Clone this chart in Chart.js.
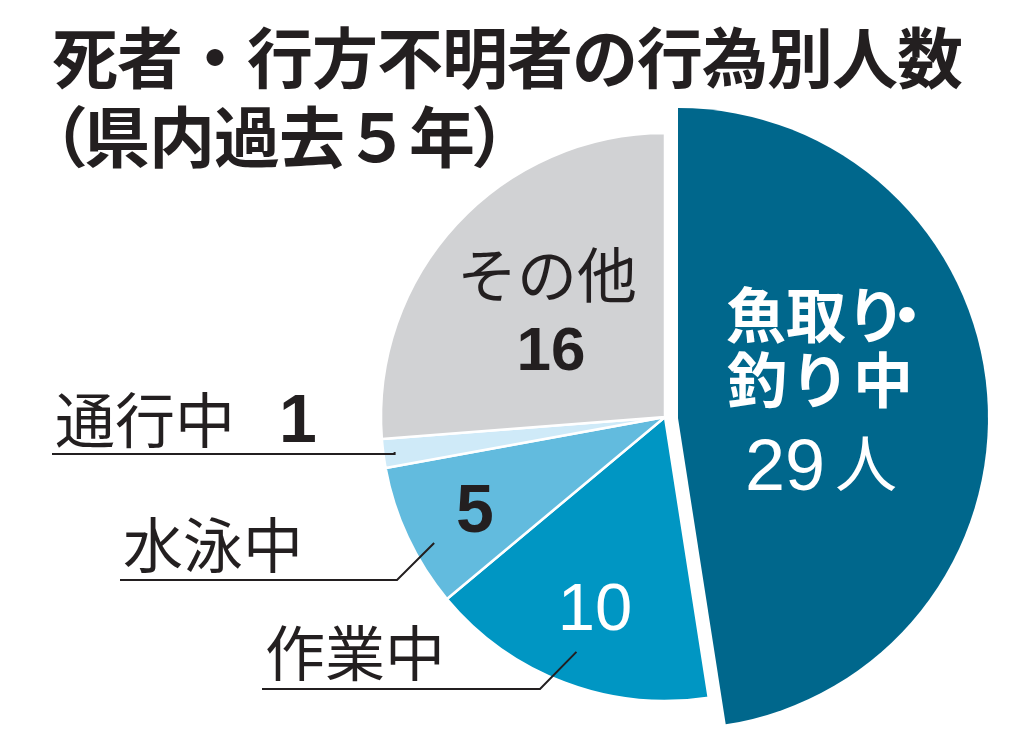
<!DOCTYPE html>
<html lang="ja">
<head>
<meta charset="utf-8">
<script src="https://cdn.jsdelivr.net/npm/chart.js@4.4.1/dist/chart.umd.min.js"></script>
<style>
  html, body { margin: 0; padding: 0; background: #fff; }
  #wrap { position: relative; width: 1024px; height: 752px; overflow: hidden; }
  .layer { position: absolute; left: 0; top: 0; width: 1024px; height: 752px; }
  #title {
    position: absolute; left: 52px; top: 15px;
    font-family: "Noto Sans CJK JP", sans-serif; font-weight: 700;
    font-size: 66px; line-height: 79px; letter-spacing: -1px;
    color: #231f20; white-space: nowrap;
  }
  #title .p { font-feature-settings: "palt"; }
</style>
</head>
<body>
<div id="wrap">
  <div class="layer"><canvas id="pieRest"></canvas></div>
  <div class="layer"><canvas id="pieMain"></canvas></div>
  <div id="title">死者・行方不明者の行為別人数<br><span class="p">（</span>県内過去５年<span class="p">）</span></div>
</div>
<script>
// data
const categories = ['魚取り・釣り中', '作業中', '水泳中', '通行中', 'その他'];
const counts = [29, 10, 5, 1, 16];
const unit = '人';

const sliceColors = ['#00678c', '#0096c3', '#62bbde', '#cfeaf8', '#d1d2d4'];
const clear = 'rgba(0,0,0,0)';
const ink = '#231f20';
const jp = '"Noto Sans CJK JP", sans-serif';
const num = '"Liberation Sans", Arial, sans-serif';

// point inside an arc: t = fraction along the slice, rf = fraction of radius
const arcPoint = (arc, t, rf) => {
    const p = arc.getProps(['x', 'y', 'startAngle', 'endAngle', 'outerRadius'], true);
    const a = p.startAngle + (p.endAngle - p.startAngle) * t;
    return { x: p.x + Math.cos(a) * p.outerRadius * rf, y: p.y + Math.sin(a) * p.outerRadius * rf };
};

const sliceLabels = {
    id: 'sliceLabels',
    afterDatasetsDraw(chart, args, opts) {
        const ctx = chart.ctx;
        const arcs = chart.getDatasetMeta(0).data;
        ctx.save();
        ctx.textBaseline = 'alphabetic';

        (opts.inner || []).forEach(l => {
            const c = arcs[l.index].getProps(['x', 'y'], true);
            ctx.font = l.font;
            ctx.fillStyle = l.color;
            ctx.textAlign = l.align || 'center';
            ctx.letterSpacing = l.spacing || '0px';
            ctx.fillText(l.text, c.x + l.dx, c.y + l.dy);
        });

        (opts.leaders || []).forEach(l => {
            const p = arcPoint(arcs[l.index], l.t, l.rf);
            ctx.strokeStyle = ink;
            ctx.lineWidth = 2;
            ctx.beginPath();
            ctx.moveTo(l.x0, l.y);
            ctx.lineTo(l.elbow != null ? l.elbow : p.x, l.y);
            ctx.lineTo(p.x, p.y);
            ctx.stroke();

            ctx.fillStyle = ink;
            ctx.textAlign = 'left';
            ctx.letterSpacing = '0px';
            ctx.font = '400 60px ' + jp;
            ctx.fillText(categories[l.index], l.x0 + 3, l.y + l.base);
            if (l.value) {
                ctx.font = '700 68px ' + num;
                ctx.fillText(String(counts[l.index]), l.value, l.y + l.base - 1);
            }
        });
        ctx.restore();
    }
};

const baseOptions = (padLeft, padTop, radius, labels) => ({
    responsive: true,
    maintainAspectRatio: false,
    animation: false,
    radius: radius,
    layout: { padding: { left: padLeft, top: padTop, right: 0, bottom: 0 } },
    events: [],
    plugins: {
        legend: { display: false },
        tooltip: { enabled: false },
        sliceLabels: labels
    }
});

// all slices except the exploded one
new Chart(document.getElementById('pieRest'), {
    type: 'pie',
    data: {
        labels: categories,
        datasets: [{
            data: counts,
            backgroundColor: sliceColors.map((c, i) => i === 0 ? clear : c),
            borderColor: '#fff',
            borderWidth: counts.map((v, i) => i === 0 ? 0 : 2.5)
        }]
    },
    options: baseOptions(306, 82, 284, {
        inner: [
            { index: 4, text: categories[4], font: '400 60px ' + jp, color: ink, dx: -118, dy: -119 },
            { index: 4, text: String(counts[4]), font: '700 62px ' + num, color: ink, dx: -114, dy: -47 },
            { index: 2, text: String(counts[2]), font: '700 68px ' + num, color: ink, dx: -190, dy: 115 },
            { index: 1, text: String(counts[1]), font: '400 67px ' + num, color: '#fff', dx: -70, dy: 213 }
        ],
        leaders: [
            { index: 3, t: 0.5, rf: 0.96, x0: 52, y: 454, base: -11, value: 279 },
            { index: 2, t: 0.38, rf: 0.926, x0: 120, y: 580, elbow: 397, base: -12 },
            { index: 1, t: 0.5, rf: 0.884, x0: 262, y: 689, elbow: 540, base: -13 }
        ]
    }),
    plugins: [sliceLabels]
});

// the exploded, larger slice
const mainName = categories[0].split('・');
new Chart(document.getElementById('pieMain'), {
    type: 'pie',
    data: {
        labels: categories,
        datasets: [{
            data: counts,
            backgroundColor: sliceColors.map((c, i) => i === 0 ? c : clear),
            borderWidth: 0
        }]
    },
    options: baseOptions(332, 84, 310, {
        inner: [
            { index: 0, text: mainName[0], font: '700 60px ' + jp, color: '#fff', align: 'left', dx: 48, dy: -80 },
            { index: 0, text: '・', font: '700 60px ' + jp, color: '#fff', align: 'left', dx: 199, dy: -80 },
            { index: 0, text: mainName[1], font: '700 60px ' + jp, color: '#fff', align: 'left', spacing: '3px', dx: 49, dy: -15 },
            { index: 0, text: String(counts[0]), font: '400 72px ' + num, color: '#fff', align: 'left', dx: 67, dy: 72 },
            { index: 0, text: unit, font: '400 62px ' + jp, color: '#fff', align: 'left', dx: 157, dy: 69 }
        ]
    }),
    plugins: [sliceLabels]
});
</script>
</body>
</html>
